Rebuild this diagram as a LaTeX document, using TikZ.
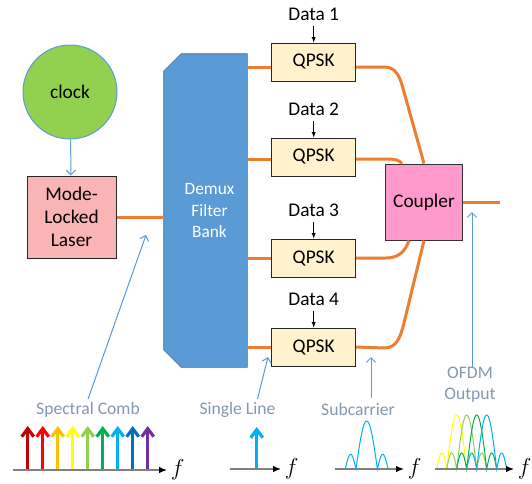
\documentclass[tikz,border=0pt]{standalone}
\usepackage{fontspec}
\setmainfont{Carlito}
\usetikzlibrary{positioning,arrows.meta}
\definecolor{orangeline}{HTML}{ED7D31}
\definecolor{pointerblue}{HTML}{5B9BD5}
\definecolor{notegray}{HTML}{8497B0}
\definecolor{demuxblue}{HTML}{5B9BD5}
\definecolor{demuxedge}{HTML}{41719C}
\definecolor{qpskfill}{HTML}{FFF2CC}
\definecolor{couplerpink}{HTML}{FF99CC}
\definecolor{laserpink}{HTML}{FAB4B4}
\definecolor{clockgreen}{HTML}{92D050}
\definecolor{c1}{HTML}{C00000}
\definecolor{c2}{HTML}{FF0000}
\definecolor{c3}{HTML}{FFC000}
\definecolor{c4}{HTML}{FFFF00}
\definecolor{c5}{HTML}{92D050}
\definecolor{c6}{HTML}{00B050}
\definecolor{c7}{HTML}{00B0F0}
\definecolor{c8}{HTML}{0070C0}
\definecolor{c9}{HTML}{7030A0}
\newcommand{\mainsize}{\fontsize{14.5}{17.5}\selectfont}

\begin{document}
\begin{tikzpicture}[>=latex,x=0.75pt,y=-0.75pt,
    box/.style={draw=black!85,line width=0.75pt,fill=qpskfill,minimum width=63pt,minimum height=28.5pt,font=\mainsize},
    fiber/.style={draw=orangeline,line width=2.25pt},
    pointer/.style={draw=pointerblue,line width=0.75pt,-{Straight Barb[length=3.5pt,width=7pt]}},
    note/.style={text=notegray,font=\fontsize{13.2}{16}\selectfont,align=center},
    axis/.style={draw=gray,line width=1pt,-{Latex[color=black,length=6pt,width=5pt]}},
    spike/.style={line width=2.4pt,-{Straight Barb[length=6pt,width=9pt]}},
    pulse/.style={line width=0.75pt}]
    \useasboundingbox (0,0) rectangle (532,483);

    \node[circle,draw=pointerblue,line width=0.75pt,fill=clockgreen,minimum size=70.5pt,font=\mainsize] (clk) at (70,92) {clock};
    \node[draw=black!85,line width=0.75pt,fill=laserpink,minimum width=66.75pt,minimum height=61.5pt,align=center,font=\mainsize] (las) at (71.5,217) {Mode-\\Locked\\Laser};
    \node[minimum width=62.25pt,minimum height=234.75pt,inner sep=0pt] (dm) at (205.5,210.5) {};
    \filldraw[draw=demuxedge,fill=demuxblue] (dm.north east) -- (dm.south east) -- ([xshift=13pt]dm.south west)
      -- ([yshift=13pt]dm.south west) -- ([yshift=-13pt]dm.north west) -- ([xshift=13pt]dm.north west) -- cycle;
    \node[text=white,align=center,font=\fontsize{13}{16}\selectfont] at ([xshift=3pt]dm) {Demux\\Filter\\Bank};
    \node[box] (q1) at (313.7,62) {QPSK};
    \node[box] (q2) at (313.7,157) {QPSK};
    \node[box] (q3) at (313.7,258) {QPSK};
    \node[box] (q4) at (313.7,347) {QPSK};
    \node[draw=black!80,line width=0.75pt,fill=couplerpink,minimum width=57.75pt,minimum height=57pt,font=\mainsize] (cp) at (424,202) {Coupler};

    \node[font=\mainsize,above=12.5pt of q1] (d1) {Data 1};
    \node[font=\mainsize,above=12.5pt of q2] (d2) {Data 2};
    \node[font=\mainsize,above=12.5pt of q3] (d3) {Data 3};
    \node[font=\mainsize,above=12.5pt of q4] (d4) {Data 4};
    \draw[->] (d1) -- (q1);
    \draw[->] (d2) -- (q2);
    \draw[->] (d3) -- (q3);
    \draw[->] (d4) -- (q4);

    \draw[pointer] (clk) -- (las);

    % fibres
    \draw[fiber] (las) -- (las -| dm.west);
    \draw[fiber] ([yshift=-3.75pt]q1.west -| dm.east) -- ([yshift=-3.75pt]q1.west);
    \draw[fiber] ([yshift=-1.5pt]q2.west -| dm.east) -- ([yshift=-1.5pt]q2.west);
    \draw[fiber] (q3.west -| dm.east) -- (q3.west);
    \draw[fiber] (q4.west -| dm.east) -- (q4.west);
    \draw[fiber] ([yshift=-3.75pt]q1.east) -- (384,67) .. controls (396,67) and (400,76) .. (404,92) -- (cp.north);
    \draw[fiber] ([yshift=-1.5pt]q2.east) -- (386,159) .. controls (395,159) and (399,160) .. ([xshift=-16.5pt]cp.north);
    \draw[fiber] (q3.east) -- (386,258) .. controls (398,258) and (405,252) .. ([xshift=-11.25pt]cp.south);
    \draw[fiber] (q4.east) -- (384,348) .. controls (396,348) and (400,339) .. (404,323) -- (cp.south);
    \coordinate (out) at (500,202);
    \draw[fiber] (cp.east) -- (out);

    % labels and pointers
    \node[note] (sc) at (88,410) {Spectral Comb};
    \node[note] (sl) at (237.5,410) {Single Line};
    \node[note] (sub) at (358,409) {Subcarrier};
    \node[note] (ofdm) at (470,385) {OFDM\\Output};
    \coordinate (sc-tip) at (146,235);
    \coordinate (sl-tip) at (268,357);
    \coordinate (sub-tip) at (371,357);
    \coordinate (ofdm-tip) at (472,212);
    \draw[pointer] ([yshift=-1pt]sc.north) -- (sc-tip);
    \draw[pointer] ([xshift=15pt,yshift=-1pt]sl.north) -- (sl-tip);
    \draw[pointer] (sub.north -| sub-tip) -- (sub-tip);
    \draw[pointer] ([yshift=-3pt]ofdm.north -| ofdm-tip) -- (ofdm-tip);

    % spectra
    \coordinate (a1) at (13,470);
    \coordinate (b1) at (167,470);
    \foreach \c [count=\i] in {c1,c2,c3,c4,c5,c6,c7,c8,c9}
      \draw[spike,\c] ({12.7+15*\i},470) -- ({12.7+15*\i},426);
    \draw[axis] (a1) -- (b1) node[right=-1pt,font=\LARGE] {$f$};

    \coordinate (a2) at (230,469);
    \coordinate (b2) at (281,469);
    \draw[spike,c7] (256.7,469) -- (256.7,427);
    \draw[axis] (a2) -- (b2) node[right=-1pt,font=\LARGE] {$f$};

    \coordinate (a3) at (335,469);
    \coordinate (b3) at (404,469);
    \draw[pulse,c7] plot[domain=-21.4:21.4,samples=121]
      ({366.7+\x},{469-(abs(\x)<10.7 ? 48*cos(90*\x/10.7) : 14.7*abs(sin(180*\x/10.7)))});
    \draw[axis] (a3) -- (b3) node[right=-1pt,font=\LARGE] {$f$};

    \coordinate (a4) at (435,469);
    \coordinate (b4) at (514,469);
    \foreach \m/\c in {456.7/c4,466.7/c5,476.7/c6,486.7/c7}
      \draw[pulse,\c] plot[domain=-20:20,samples=121]
        ({\m+\x},{469-(abs(\x)<10 ? 54*cos(90*\x/10) : 16*abs(sin(180*\x/10)))});
    \draw[axis] (a4) -- (b4) node[right=-1pt,font=\LARGE] {$f$};
\end{tikzpicture}
\end{document}
